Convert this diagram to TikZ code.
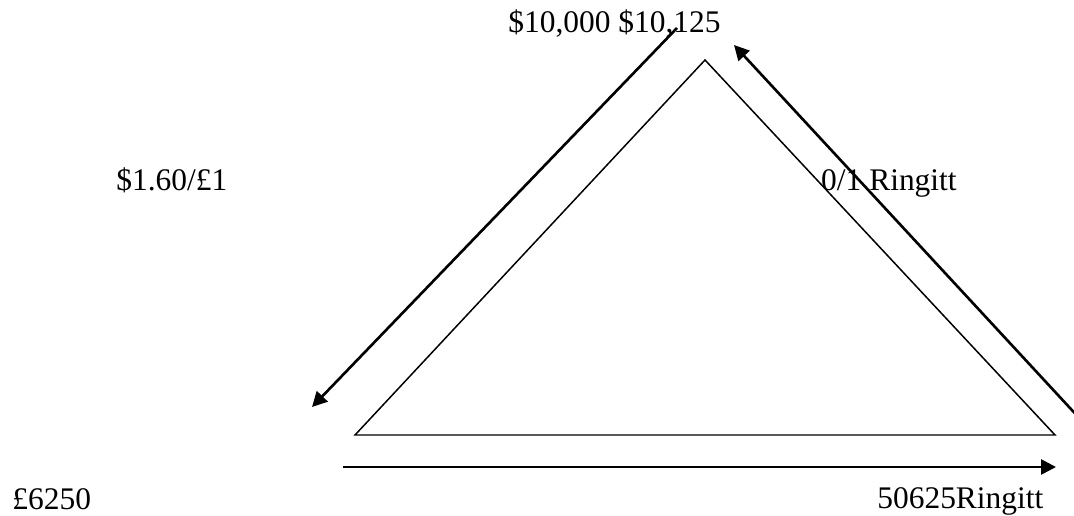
\documentclass[tikz,border=0pt]{standalone}
\usepackage{fontspec}
\setmainfont{Liberation Serif}
\usetikzlibrary{arrows.meta, positioning}

\begin{document}
\begin{tikzpicture}[x=0.02cm, y=-0.02cm,
    lbl/.style={font=\fontsize{17.9}{20}\selectfont, inner sep=0pt},
    flow/.style={line width=1.5pt, -{Triangle[length=8.5pt,width=8.5pt]}}]
  \useasboundingbox (0,0) rectangle (1074,516);
  % triangle
  \coordinate (top) at (705,60);
  \coordinate (bl) at (355,435);
  \coordinate (br) at (1055,435);
  \draw[line width=0.85pt] (bl) -- (top) -- (br) -- cycle;
  % labels
  \node[lbl, anchor=base west] (usd) at (508,33) {\$10,000 \$10,125};
  \node[lbl, anchor=base west] (gbprate) at (116,191) {\$1.60/£1};
  \node[lbl, anchor=base east] (myrrate) at (957,191) {0/1 Ringitt};
  \node[lbl, anchor=base west] (gbp) at (12,509) {£6250};
  \node[lbl, anchor=base west] (myr) at (877,508) {50625Ringitt};
  % arrows
  \coordinate (lfrom) at (677,28);
  \coordinate (lto) at (312,407);
  \coordinate (rfrom) at (1082,421);
  \coordinate (rto) at (734,45);
  \coordinate (bfrom) at (343,467);
  \coordinate (bto) at (1056,467);
  \draw[flow] (lfrom) -- (lto);
  \draw[flow] (rfrom) -- (rto);
  \draw[flow] (bfrom) -- (bto);
\end{tikzpicture}
\end{document}
